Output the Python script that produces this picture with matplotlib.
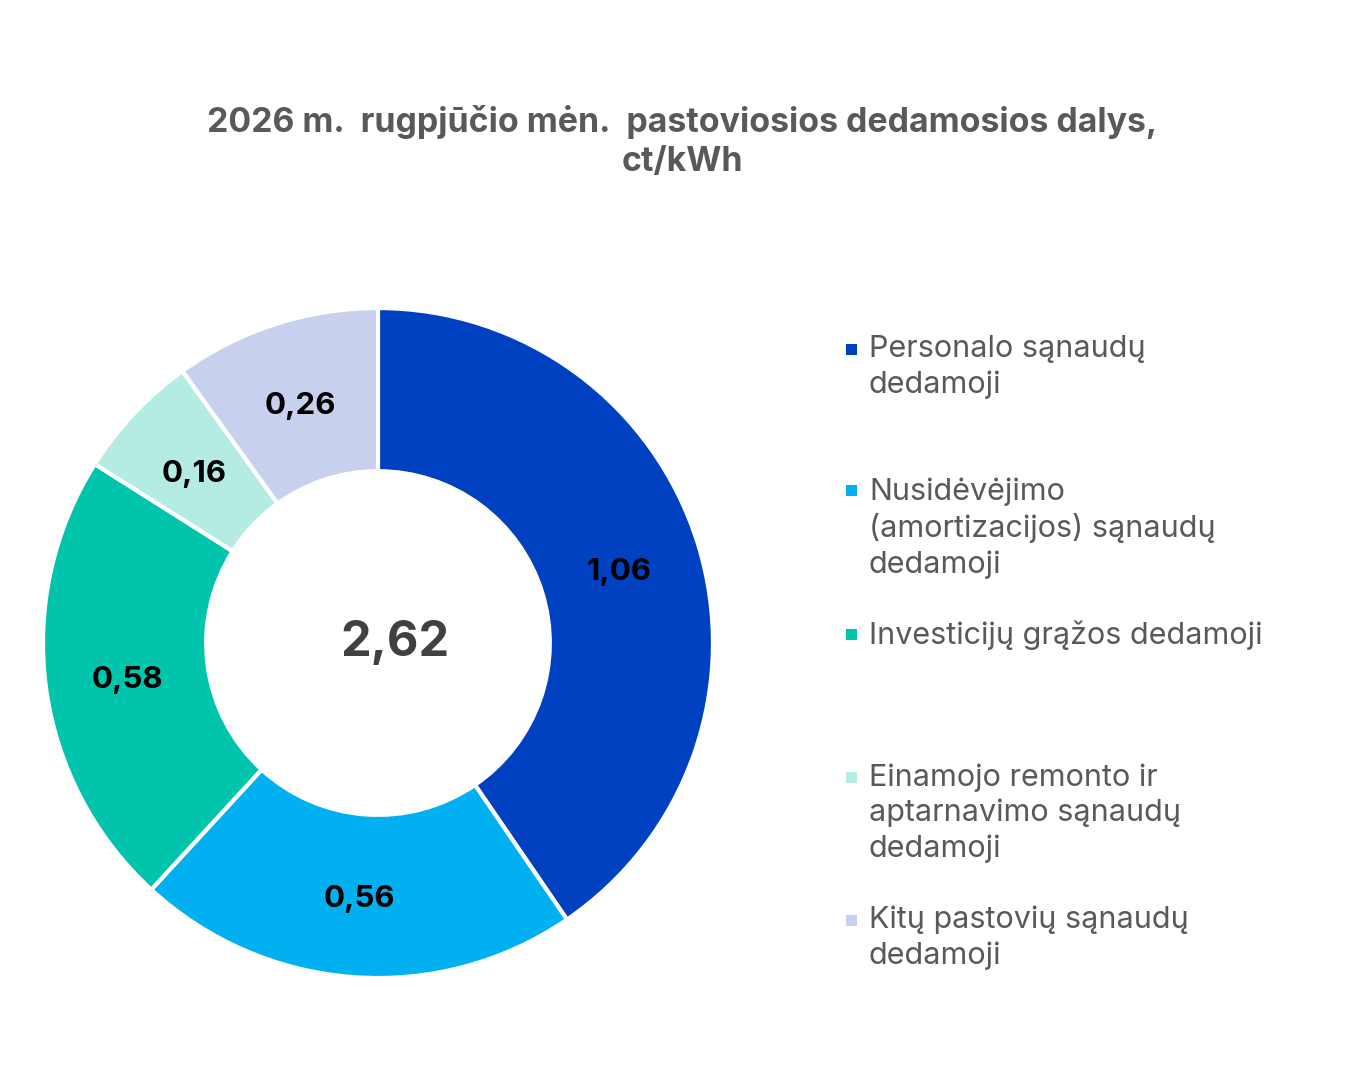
import matplotlib
matplotlib.use("Agg")
import matplotlib.pyplot as plt
from matplotlib.patches import Rectangle
from matplotlib.transforms import offset_copy

plt.rcParams['font.family'] = ['Inter', 'DejaVu Sans']

# data
categories = [
    "Personalo sąnaudų\ndedamoji",
    "Nusidėvėjimo\n(amortizacijos) sąnaudų\ndedamoji",
    "Investicijų grąžos dedamoji",
    "Einamojo remonto ir\naptarnavimo sąnaudų\ndedamoji",
    "Kitų pastovių sąnaudų\ndedamoji",
]
values = [1.06, 0.56, 0.58, 0.16, 0.26]
total_label = "2,62"
colors = ["#0041C2", "#00B0F0", "#00C4AC", "#B4ECE3", "#C7D1EE"]

fig = plt.figure(figsize=(13.48, 10.8), dpi=100)
ax = fig.add_axes([0.0319, 0.0944, 0.497, 0.6204])

wedges, texts, autotexts = ax.pie(
    values, colors=colors, startangle=90, counterclock=False,
    radius=1.0, pctdistance=0.755,
    autopct=lambda p: f"{p * sum(values) / 100:.2f}".replace(".", ","),
    wedgeprops=dict(width=0.487, edgecolor="white", linewidth=3),
    textprops=dict(fontsize=22.5, fontweight="bold", color="black"),
)
# nudge value labels a few pixels down
for t in autotexts:
    t.set_transform(offset_copy(ax.transData, fig=fig, x=0, y=-4, units="dots"))

ax.set_xlim(-1, 1)
ax.set_ylim(-1, 1)
ax.set_aspect("equal")
ax.text(0.05, 0.0, total_label, ha="center", va="center", fontsize=35,
        fontweight="bold", color="#404040")

fig.text(0.506, 0.869, "2026 m.  rugpjūčio mėn.  pastoviosios dedamosios dalys,\nct/kWh",
         ha="center", va="center", fontsize=24.4, fontweight="bold",
         color="#595959", linespacing=1.3)

# legend
slot_y = [349, 491, 634, 777, 920]
for lab, col, y in zip(categories, colors, slot_y):
    fy = 1 - y / 1080
    fig.patches.append(Rectangle((846 / 1348, fy - 5.5 / 1080), 11 / 1348, 11 / 1080,
                                 transform=fig.transFigure, facecolor=col,
                                 edgecolor="none"))
    fig.text(869 / 1348, fy + 14 / 1080, lab, ha="left", va="top", fontsize=22,
             color="#595959", linespacing=1.32)

fig.savefig("out.png", dpi=100, facecolor="white")
